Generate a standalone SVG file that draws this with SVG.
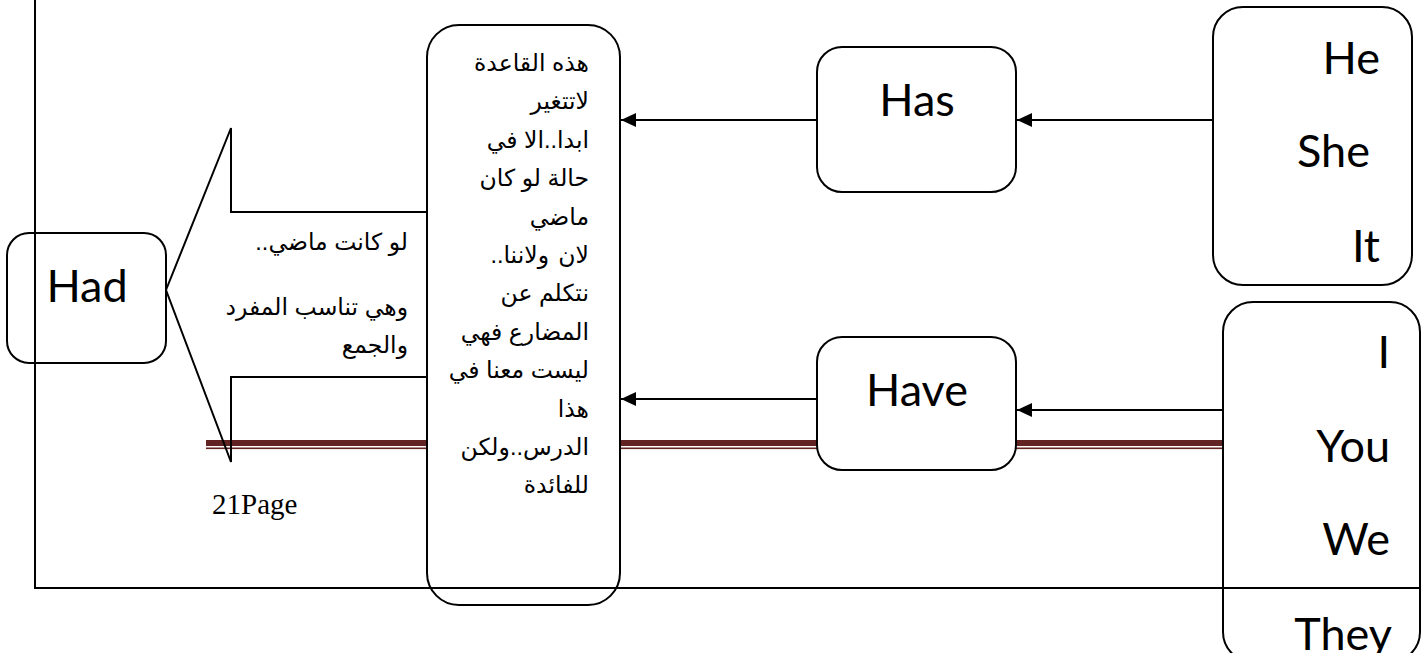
<svg xmlns="http://www.w3.org/2000/svg" width="1421" height="653" viewBox="0 0 1421 653">
<style>
.box{fill:#fff;stroke:#000;stroke-width:2}
.lat{font-family:Lato,"Open Sans",sans-serif;font-size:45px;fill:#000}
.ar{font-family:"Liberation Sans","DejaVu Sans",sans-serif;font-size:23.5px;fill:#000}
.con{stroke:#000;stroke-width:2;fill:none;marker-end:url(#ah)}
.page{stroke:#000;stroke-width:2;fill:none}
</style>
<defs>
<marker id="ah" markerUnits="userSpaceOnUse" markerWidth="16" markerHeight="14" refX="15" refY="7" orient="auto">
<path d="M0,0 L15,7 L0,14 Z" fill="#000"/>
</marker>
</defs>
<rect width="1421" height="653" fill="#fff"/>
<g id="rule">
<rect x="206" y="440" width="1017" height="6" fill="#622423"/>
<rect x="206" y="447.5" width="1017" height="1.6" fill="#622423"/>
</g>
<g id="callout">
<polygon points="166,290 231,128 231,212 440,212 440,377 231,377 231,462" fill="none" stroke="#000" stroke-width="2"/>
<text class="ar" x="408" y="250" direction="rtl">لو كانت ماضي..</text>
<text class="ar" x="408" y="315" direction="rtl">وهي تناسب المفرد</text>
<text class="ar" x="408" y="353" direction="rtl">والجمع</text>
</g>
<g id="had">
<rect class="box" x="7" y="233" width="159" height="130" rx="22"/>
<text class="lat" x="87" y="302" text-anchor="middle">Had</text>
</g>
<g id="rule-box">
<rect class="box" x="427" y="25" width="193" height="580" rx="32"/>
<g class="ar" direction="rtl">
<text x="589" y="71">هذه القاعدة</text>
<text x="589" y="109.4">لاتتغير</text>
<text x="589" y="147.8">ابدا..الا في</text>
<text x="589" y="186.2">حالة لو كان</text>
<text x="589" y="224.6">ماضي</text>
<text direction="ltr" text-anchor="end" y="263"><tspan x="549">..ولاننا</tspan><tspan x="589"> لان</tspan></text>
<text x="589" y="301.4">نتكلم عن</text>
<text x="589" y="339.8">المضارع فهي</text>
<text x="589" y="378.2">ليست معنا في</text>
<text x="589" y="416.6">هذا</text>
<text x="589" y="455">الدرس..ولكن</text>
<text x="589" y="493.4">للفائدة</text>
</g>
</g>
<g id="has">
<rect class="box" x="817" y="47" width="199" height="145" rx="25"/>
<text class="lat" x="917" y="116" text-anchor="middle">Has</text>
</g>
<g id="have">
<rect class="box" x="817" y="337" width="199" height="133" rx="25"/>
<text class="lat" x="917" y="406" text-anchor="middle">Have</text>
</g>
<g id="he-she-it">
<rect class="box" x="1213" y="7" width="199" height="278" rx="30"/>
<text class="lat" x="1380" y="74" text-anchor="end">He</text>
<text class="lat" x="1370" y="167" text-anchor="end">She</text>
<text class="lat" x="1380" y="262" text-anchor="end">It</text>
</g>
<g id="i-you-we-they">
<rect class="box" x="1223" y="302" width="197" height="360" rx="30"/>
<text class="lat" x="1390" y="368" text-anchor="end">I</text>
<text class="lat" x="1390" y="462" text-anchor="end">You</text>
<text class="lat" x="1390" y="555" text-anchor="end">We</text>
<text class="lat" x="1392" y="650" text-anchor="end">They</text>
</g>
<g id="connectors">
<line class="con" x1="1213" y1="120" x2="1017" y2="120"/>
<line class="con" x1="817" y1="120" x2="621" y2="120"/>
<line class="con" x1="1223" y1="410" x2="1017" y2="410"/>
<line class="con" x1="817" y1="399" x2="621" y2="399"/>
</g>
<g id="page">
<line class="page" x1="35" y1="0" x2="35" y2="589"/>
<line class="page" x1="34" y1="588" x2="1421" y2="588"/>
<text x="212" y="514" font-family="Liberation Serif, serif" font-size="29" fill="#000">21Page</text>
</g>
</svg>
